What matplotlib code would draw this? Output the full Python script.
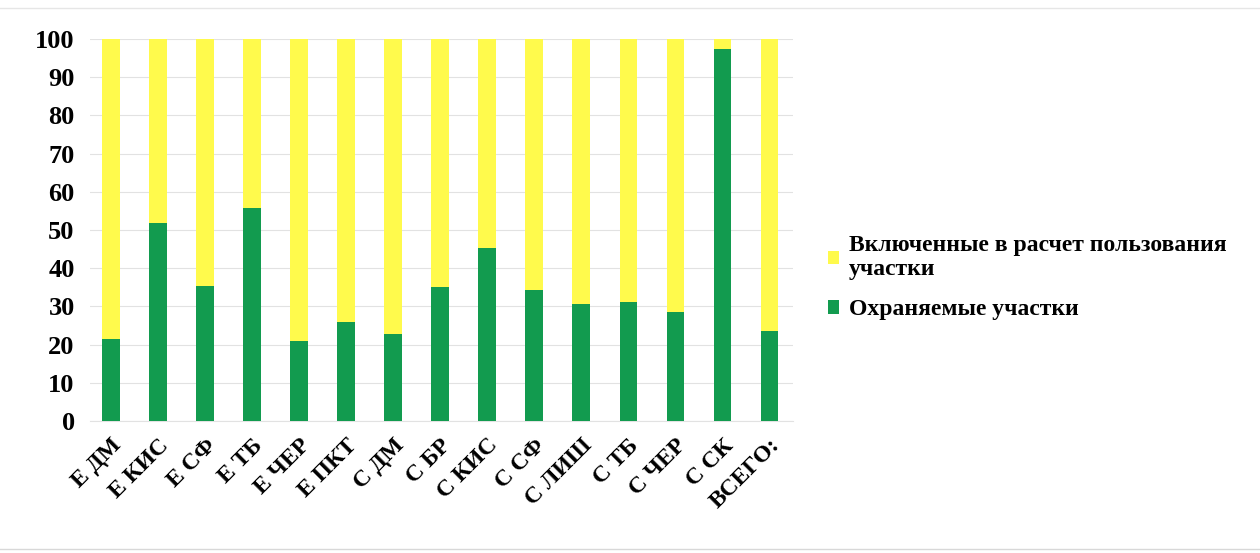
import numpy as np
import matplotlib.pyplot as plt
from matplotlib.patches import Patch
from matplotlib.lines import Line2D

plt.rcParams['font.family'] = ['Liberation Serif', 'DejaVu Serif']
plt.rcParams['font.weight'] = 'bold'

categories = ["Е ДМ", "Е КИС", "Е СФ", "Е ТБ", "Е ЧЕР", "Е ПКТ", "С ДМ", "С БР",
              "С КИС", "С СФ", "С ЛИШ", "С ТБ", "С ЧЕР", "С СК", "ВСЕГО:"]
# share of protected plots, %
protected = np.array([21.5, 51.8, 35.3, 55.7, 21.0, 26.0, 22.8, 35.0,
                      45.3, 34.2, 30.5, 31.2, 28.5, 97.4, 23.6])
# share of plots counted in the use calculation, %
included = 100 - protected

label_included = "Включенные в расчет пользования\nучастки"
label_protected = "Охраняемые участки"

yellow = '#FFFA4C'
green = '#129B4F'

fig = plt.figure(figsize=(12.6, 5.53), dpi=100)
ax = fig.add_axes([0.0714, 0.2387, 0.5580, 0.6908])

x = np.arange(len(categories))
ax.bar(x, protected, width=0.38, color=green, zorder=3)
ax.bar(x, included, width=0.38, bottom=protected, color=yellow, zorder=3)

ax.set_xlim(-0.45, 14.5)
ax.set_ylim(0, 100)
ax.set_yticks(np.arange(0, 101, 10))
ax.yaxis.grid(True, color='#E2E2E2', linewidth=0.8, zorder=0)
ax.tick_params(axis='both', length=0)
ax.tick_params(axis='y', labelsize=19, pad=11)
ax.set_xticks(x)
ax.set_xticklabels(categories, rotation=45, ha='right', rotation_mode='anchor',
                   fontsize=17)
ax.tick_params(axis='x', pad=10)
for side in ['top', 'right', 'left']:
    ax.spines[side].set_visible(False)
ax.spines['bottom'].set_color('#E2E2E2')

handles = [Patch(facecolor=yellow, edgecolor='none', label=label_included),
           Patch(facecolor=green, edgecolor='none', label=label_protected)]
leg = fig.legend(handles=handles, loc='upper left', bbox_to_anchor=(0.64, 0.613),
                 frameon=False, fontsize=17, handlelength=0.5, handleheight=0.5,
                 handletextpad=0.4, labelspacing=0.8)
for t in leg.get_texts():
    t.set_linespacing(1.2)

# thin frame lines at top and bottom of the chart area
fig.add_artist(Line2D([0.0, 1.0], [0.985, 0.985], color='#E6E6E6', linewidth=1))
fig.add_artist(Line2D([0.0, 1.0], [0.008, 0.008], color='#D8D8D8', linewidth=1))

fig.savefig('out.png', dpi=100, facecolor='white')
